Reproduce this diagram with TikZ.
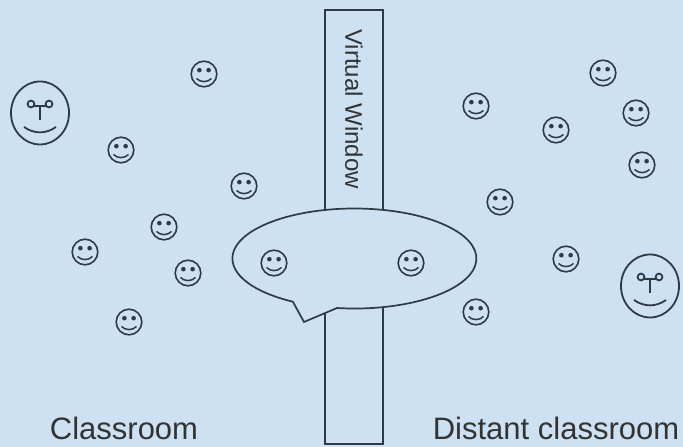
\documentclass[tikz,border=0pt]{standalone}
\usepackage{fontspec}
\setmainfont{Liberation Sans}
\usepackage{xcolor}
\definecolor{wallblue}{HTML}{CEE1F3}
\definecolor{inkgrey}{HTML}{2E3A46}
\tikzset{
  smallface/.pic={
    \draw [inkgrey, line width=1.6pt] (0,0) circle (12.8);
    \fill [inkgrey] (-4.6,3.8) circle (2.3);
    \fill [inkgrey] (4.6,3.8) circle (2.3);
    \draw [inkgrey, line width=1.5pt] (-7.5,-4.5) to[out=-45,in=225] (7.5,-4.5);
  },
  bigface/.pic={
    \draw [inkgrey, line width=1.8pt] (0,0) ellipse (29 and 31.5);
    \draw [inkgrey, line width=1.8pt] (-9,9) circle (3.4);
    \draw [inkgrey, line width=1.8pt] (9,9) circle (3.4);
    \draw [inkgrey, line width=1.8pt] (-5.6,7) -- (5.6,7);
    \draw [inkgrey, line width=1.8pt] (0,7) -- (0,-7);
    \draw [inkgrey, line width=1.8pt] (-16,-14) to[out=-35,in=215] (16,-14);
  },
  roomlabel/.style={font=\fontsize{31}{36}\selectfont, text=black!80, anchor=base, inner sep=0pt},
}
\begin{document}
\begin{tikzpicture}[x=1pt,y=1pt]
\fill [wallblue] (0,0) rectangle (683,447);
\useasboundingbox (0,0) rectangle (683,447);

% window and speech bubble
\draw [inkgrey, line width=1.6pt] (325,3) rectangle (383,437);
\node [rotate=-90, font=\fontsize{24}{28}\selectfont, text=black!80, inner sep=0pt] (windowtext) at (354,338) {Virtual Window};
\draw [inkgrey, line width=1.7pt, fill=wallblue] (337,139) arc[start angle=261.8, end angle=599.7, x radius=122, y radius=50] -- (304,125) -- cycle;

% big faces
\pic at (40,334) {bigface};
\pic at (650,161) {bigface};

% classroom
\pic at (204,373) {smallface};
\pic at (121,297) {smallface};
\pic at (244,261) {smallface};
\pic at (164,220) {smallface};
\pic at (85,195) {smallface};
\pic at (188,174) {smallface};
\pic at (129,125) {smallface};

% inside the bubble
\pic at (274,184) {smallface};
\pic at (411,184) {smallface};

% distant classroom
\pic at (476,341) {smallface};
\pic at (556,317) {smallface};
\pic at (603,374) {smallface};
\pic at (636,334) {smallface};
\pic at (642,282) {smallface};
\pic at (500,245) {smallface};
\pic at (566,188) {smallface};
\pic at (476,135) {smallface};

\node [roomlabel] (classroom) at (124,7) {Classroom};
\node [roomlabel] (distant) at (556,7) {Distant classroom};
\end{tikzpicture}
\end{document}
